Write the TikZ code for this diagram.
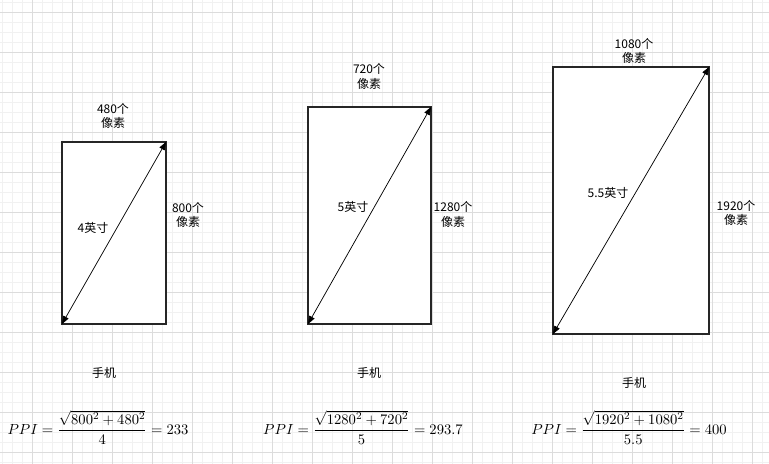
\documentclass[tikz,border=0pt]{standalone}
\usepackage{amsmath}
\usepackage{fontspec}
\newfontfamily\cjk{Noto Sans CJK SC}
\usetikzlibrary{arrows.meta}
\definecolor{gridminor}{HTML}{F1F1F1}
\definecolor{gridmajor}{HTML}{DCDCDC}
\begin{document}
\begin{tikzpicture}[x=0.75pt,y=-0.75pt,
  phone/.style={draw=black!85,line width=0.9pt,fill=white},
  diag/.style={{Triangle[length=6pt,width=4.4pt]}-{Triangle[length=6pt,width=4.4pt]},line width=0.55pt},
  lbl/.style={font=\cjk\fontsize{9}{11}\selectfont,align=center,inner sep=0pt},
  ppi/.style={font=\fontsize{10.8}{13}\selectfont,inner sep=0pt,anchor=base}]
\useasboundingbox (0,0) rectangle (769,464);
% grid
\fill[white] (0,0) rectangle (769,464);
\foreach \x in {2.5,12.5,...,769} \draw[gridminor,line width=0.75pt] (\x,0) -- (\x,464);
\foreach \y in {2.5,12.5,...,464} \draw[gridminor,line width=0.75pt] (0,\y) -- (769,\y);
\foreach \x in {32.5,72.5,...,769} \draw[gridmajor,line width=0.75pt] (\x,0) -- (\x,464);
\foreach \y in {12.5,52.5,...,464} \draw[gridmajor,line width=0.75pt] (0,\y) -- (769,\y);
% phones
\coordinate (p1sw) at (62,324);
\coordinate (p1ne) at (166,142);
\coordinate (p2sw) at (308,324);
\coordinate (p2ne) at (431,107);
\coordinate (p3sw) at (553,334);
\coordinate (p3ne) at (709,67);
\draw[phone] (p1sw) rectangle (p1ne);
\draw[phone] (p2sw) rectangle (p2ne);
\draw[phone] (p3sw) rectangle (p3ne);
\draw[diag] (p1sw) -- (p1ne);
\draw[diag] (p2sw) -- (p2ne);
\draw[diag] (p3sw) -- (p3ne);
% labels
\node[lbl] (w1) at (113,116) {480个\\像素};
\node[lbl] (h1) at (188,215) {800个\\像素};
\node[lbl] (d1) at (93,228) {4英寸};
\node[lbl] (n1) at (104,373) {手机};
\node[lbl] (w2) at (369,76.5) {720个\\像素};
\node[lbl] (h2) at (453,214.5) {1280个\\像素};
\node[lbl] (d2) at (353,207) {5英寸};
\node[lbl] (n2) at (369,373) {手机};
\node[lbl] (w3) at (634,51) {1080个\\像素};
\node[lbl] (h3) at (736,213) {1920个\\像素};
\node[lbl] (d3) at (608,193) {5.5英寸};
\node[lbl] (n3) at (634,383) {手机};
% formulas
\node[ppi] (f1) at (98,434) {$\displaystyle PPI=\frac{\sqrt{800^2+480^2}}{4}=233$};
\node[ppi] (f2) at (363,434) {$\displaystyle PPI=\frac{\sqrt{1280^2+720^2}}{5}=293.7$};
\node[ppi] (f3) at (629,434) {$\displaystyle PPI=\frac{\sqrt{1920^2+1080^2}}{5.5}=400$};
\end{tikzpicture}
\end{document}
